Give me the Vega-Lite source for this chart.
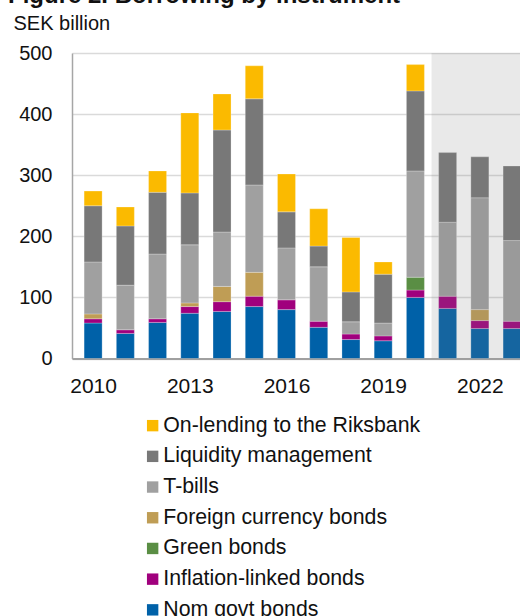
{
  "$schema": "https://vega.github.io/schema/vega-lite/v6.json",
  "width": 448,
  "height": 305.5,
  "autosize": "none",
  "padding": {"left": 72, "top": 53, "right": 0, "bottom": 257.5},
  "background": "white",
  "config": {"font": "Liberation Sans", "view": {"stroke": null}},
  "title": {"text": "Figure 2. Borrowing by instrument", "anchor": "start", "fontSize": 24, "fontWeight": "bold", "color": "#111111", "offset": 5, "dx": -5},
  "datasets": {
    "borrowing": [
      {"year": 2010, "Nom govt bonds": 58, "Inflation-linked bonds": 7, "Green bonds": 0, "Foreign currency bonds": 8, "T-bills": 85, "Liquidity management": 92, "On-lending to the Riksbank": 24},
      {"year": 2011, "Nom govt bonds": 41, "Inflation-linked bonds": 6, "Green bonds": 0, "Foreign currency bonds": 0, "T-bills": 73, "Liquidity management": 97, "On-lending to the Riksbank": 31},
      {"year": 2012, "Nom govt bonds": 59, "Inflation-linked bonds": 6, "Green bonds": 0, "Foreign currency bonds": 0, "T-bills": 106, "Liquidity management": 101, "On-lending to the Riksbank": 35},
      {"year": 2013, "Nom govt bonds": 74, "Inflation-linked bonds": 11, "Green bonds": 0, "Foreign currency bonds": 6, "T-bills": 95, "Liquidity management": 85, "On-lending to the Riksbank": 131},
      {"year": 2014, "Nom govt bonds": 77, "Inflation-linked bonds": 16, "Green bonds": 0, "Foreign currency bonds": 25, "T-bills": 89, "Liquidity management": 167, "On-lending to the Riksbank": 59},
      {"year": 2015, "Nom govt bonds": 85, "Inflation-linked bonds": 17, "Green bonds": 0, "Foreign currency bonds": 39, "T-bills": 143, "Liquidity management": 141, "On-lending to the Riksbank": 54},
      {"year": 2016, "Nom govt bonds": 80, "Inflation-linked bonds": 16, "Green bonds": 0, "Foreign currency bonds": 0, "T-bills": 85, "Liquidity management": 59, "On-lending to the Riksbank": 62},
      {"year": 2017, "Nom govt bonds": 51, "Inflation-linked bonds": 10, "Green bonds": 0, "Foreign currency bonds": 0, "T-bills": 89, "Liquidity management": 34, "On-lending to the Riksbank": 61},
      {"year": 2018, "Nom govt bonds": 31, "Inflation-linked bonds": 9, "Green bonds": 0, "Foreign currency bonds": 0, "T-bills": 20, "Liquidity management": 49, "On-lending to the Riksbank": 89},
      {"year": 2019, "Nom govt bonds": 29, "Inflation-linked bonds": 8, "Green bonds": 0, "Foreign currency bonds": 0, "T-bills": 21, "Liquidity management": 80, "On-lending to the Riksbank": 20},
      {"year": 2020, "Nom govt bonds": 100, "Inflation-linked bonds": 12, "Green bonds": 21, "Foreign currency bonds": 0, "T-bills": 174, "Liquidity management": 131, "On-lending to the Riksbank": 43},
      {"year": 2021, "Nom govt bonds": 82, "Inflation-linked bonds": 20, "Green bonds": 0, "Foreign currency bonds": 0, "T-bills": 121, "Liquidity management": 114, "On-lending to the Riksbank": 0},
      {"year": 2022, "Nom govt bonds": 49, "Inflation-linked bonds": 13, "Green bonds": 0, "Foreign currency bonds": 18, "T-bills": 183, "Liquidity management": 67, "On-lending to the Riksbank": 0},
      {"year": 2023, "Nom govt bonds": 49, "Inflation-linked bonds": 12, "Green bonds": 0, "Foreign currency bonds": 0, "T-bills": 132, "Liquidity management": 122, "On-lending to the Riksbank": 0}
    ],
    "instruments": [
      {"instrument": "Nom govt bonds", "rank": 1},
      {"instrument": "Inflation-linked bonds", "rank": 2},
      {"instrument": "Green bonds", "rank": 3},
      {"instrument": "Foreign currency bonds", "rank": 4},
      {"instrument": "T-bills", "rank": 5},
      {"instrument": "Liquidity management", "rank": 6},
      {"instrument": "On-lending to the Riksbank", "rank": 7}
    ],
    "forecast": [{"start": 2020.5, "end": 2024}]
  },
  "layer": [
    {
      "data": {"name": "borrowing"},
      "transform": [
        {"fold": ["Nom govt bonds", "Inflation-linked bonds", "Green bonds", "Foreign currency bonds", "T-bills", "Liquidity management", "On-lending to the Riksbank"], "as": ["instrument", "value"]},
        {"filter": "datum.value > 0"},
        {"lookup": "instrument", "from": {"data": {"name": "instruments"}, "key": "instrument", "fields": ["rank"]}}
      ],
      "mark": {"type": "bar", "size": 18, "clip": true, "stroke": "white", "strokeWidth": 0.5, "strokeOpacity": 0.5},
      "encoding": {
        "x": {
          "field": "year", "type": "quantitative",
          "scale": {"domain": [2009.5, 2023.09], "nice": false, "zero": false},
          "axis": {"values": [2010, 2013, 2016, 2019, 2022], "format": "d", "ticks": false, "grid": false, "labelFontSize": 21, "labelPadding": 17, "labelColor": "#111111", "labelFlush": false, "domainColor": "#A0A0A0", "domainWidth": 2, "title": null}
        },
        "y": {
          "field": "value", "type": "quantitative",
          "scale": {"domain": [0, 500], "nice": false},
          "axis": {"values": [0, 100, 200, 300, 400, 500], "ticks": false, "grid": true, "gridColor": "#DADADA", "gridWidth": 1.5, "domainColor": "#A6A6A6", "domainWidth": 1.5, "labelFontSize": 20, "labelPadding": 20, "labelColor": "#111111", "title": "SEK billion", "titleAngle": 0, "titleAlign": "left", "titleBaseline": "alphabetic", "titleX": -59, "titleY": -24, "titleFontSize": 20, "titleFontWeight": "normal", "titleColor": "#111111"}
        },
        "color": {
          "field": "instrument", "type": "nominal",
          "scale": {
            "domain": ["On-lending to the Riksbank", "Liquidity management", "T-bills", "Foreign currency bonds", "Green bonds", "Inflation-linked bonds", "Nom govt bonds"],
            "range": ["#FBBA00", "#787878", "#A0A0A0", "#BF9D55", "#5A8E44", "#A0007D", "#0061A8"]
          },
          "legend": {"orient": "none", "legendX": 70, "legendY": 362, "title": null, "padding": 0, "symbolType": "square", "symbolSize": 130, "symbolStrokeWidth": 0, "symbolOpacity": 1, "labelFontSize": 21.3, "labelOffset": 0, "labelLimit": 500, "rowPadding": 8.7, "labelColor": "#111111"}
        },
        "order": {"field": "rank", "type": "quantitative"}
      }
    },
    {
      "data": {"name": "forecast"},
      "mark": {"type": "rect", "fill": "#7B7B7B", "opacity": 0.17, "clip": true},
      "encoding": {
        "x": {"field": "start", "type": "quantitative", "scale": {"domain": [2009.5, 2023.09], "nice": false, "zero": false}},
        "x2": {"field": "end"}
      }
    }
  ]
}
